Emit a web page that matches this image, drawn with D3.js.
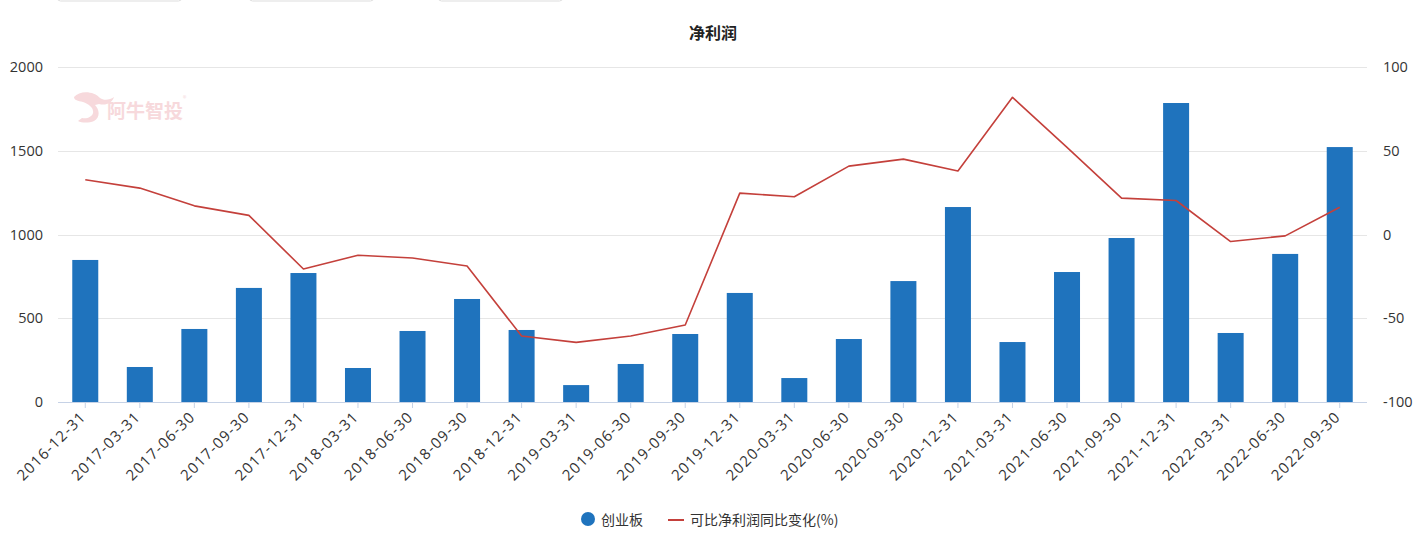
<!DOCTYPE html>
<html><head><meta charset="utf-8">
<script src="https://cdn.jsdelivr.net/npm/d3@7/dist/d3.min.js"></script>
<style>body{margin:0;background:#fff;}svg{display:block;font-family:"Noto Sans CJK SC","Open Sans",sans-serif;}</style>
</head><body><svg id="c" width="1427" height="550"></svg>
<script>
const categories = ["2016-12-31","2017-03-31","2017-06-30","2017-09-30","2017-12-31","2018-03-31","2018-06-30","2018-09-30","2018-12-31","2019-03-31","2019-06-30","2019-09-30","2019-12-31","2020-03-31","2020-06-30","2020-09-30","2020-12-31","2021-03-31","2021-06-30","2021-09-30","2021-12-31","2022-03-31","2022-06-30","2022-09-30"];
const barValues = [848,209,436,681,770,203,424,615,430,101,227,406,651,143,376,722,1164,358,776,979,1785,412,884,1522];
const lineValues = [32.7,27.7,17.1,11.4,-20.6,-12.4,-14,-18.8,-60.6,-64.4,-60.6,-54,24.7,22.5,40.8,45,37.9,81.9,52,21.7,20.3,-4.2,-0.8,16.3];
const leftTicks = [0,500,1000,1500,2000];
const rightTicks = [-100,-50,0,50,100];
const title = "净利润";
const barName = "创业板";
const lineName = "可比净利润同比变化(%)";

const svg = d3.select("#c");
const L = 58, R = 1367, T = 67, B = 402;
const x = d3.scaleBand().domain(categories).range([L, R]).paddingInner(0).paddingOuter(0);
const yL = d3.scaleLinear().domain([0, 2000]).range([B, T]);
const yR = d3.scaleLinear().domain([-100, 100]).range([B, T]);

// top boxes
[[57,181],[249,373],[438,562]].forEach(([a,b])=>{
  svg.append("rect").attr("x",a+0.5).attr("y",-20).attr("width",b-a).attr("height",21).attr("rx",3)
    .attr("fill","#fff").attr("stroke","#ddd");
});

// watermark
const wm = svg.append("g").attr("opacity",0.85);
wm.append("path").attr("d","M74,97 C80,90 94,91 100,98 C104,101 110,100 114,97 C112,103 106,106 99,104 L95,105 C100,110 100,118 94,121 C89,123 82,123 78,121 L82,118 C87,119 92,117 93,113 C94,108 89,104 83,102 C78,101 74,100 74,97 Z")
  .attr("fill","#f6d3d6");
wm.append("text").attr("x",107).attr("y",118).attr("font-size",19).attr("font-weight","bold").attr("fill","#f6d3d6").text("阿牛智投");
wm.append("text").attr("x",183).attr("y",101).attr("font-size",7).attr("fill","#f6d3d6").text("®");

// grid
svg.append("g").selectAll("line").data(leftTicks.filter(d=>d>0)).join("line")
  .attr("x1",L).attr("x2",R).attr("y1",d=>Math.round(yL(d))+0.5).attr("y2",d=>Math.round(yL(d))+0.5)
  .attr("stroke","#e6e6e6").attr("stroke-width",1);

// left axis labels
svg.append("g").selectAll("text").data(leftTicks).join("text")
  .attr("x",43).attr("y",d=>yL(d)).attr("dy","0.35em").attr("text-anchor","end")
  .attr("font-size",14.5).attr("fill","#333").attr("font-family","'Open Sans',sans-serif").text(d=>d);
// right axis labels
svg.append("g").selectAll("text").data(rightTicks).join("text")
  .attr("x",1383).attr("y",d=>yR(d)).attr("dy","0.35em").attr("text-anchor","start")
  .attr("font-size",14.5).attr("fill","#333").attr("font-family","'Open Sans',sans-serif").text(d=>d);

// bars
const bw = 26;
svg.append("g").selectAll("rect").data(categories).join("rect")
  .attr("x",(d)=>x(d)+x.bandwidth()/2-bw/2).attr("width",bw)
  .attr("y",(d,i)=>yL(barValues[i])).attr("height",(d,i)=>B-yL(barValues[i]))
  .attr("fill","#1f73bd");

// x axis
const xa = svg.append("g").attr("transform",`translate(0,${B})`)
  .call(d3.axisBottom(x).tickSize(6).tickPadding(6));
xa.select(".domain").attr("stroke","#c6d2e6").attr("d",`M${L},0.5H${R}`);
xa.selectAll(".tick line").attr("stroke","#c6d2e6").attr("y1",0);
xa.selectAll(".tick text").attr("font-size",15).attr("fill","#333")
  .attr("font-family","'Open Sans',sans-serif").attr("letter-spacing","1.2px")
  .attr("text-anchor","end").attr("y",0).attr("dy","0.35em")
  .attr("transform","translate(-2,12) rotate(-45)");

// line
const line = d3.line().x((d,i)=>x(categories[i])+x.bandwidth()/2).y(d=>yR(d));
svg.append("path").datum(lineValues).attr("d",line).attr("fill","none")
  .attr("stroke","#c4403b").attr("stroke-width",1.6).attr("stroke-linejoin","round");

// title
svg.append("text").attr("x",713).attr("y",39).attr("text-anchor","middle")
  .attr("font-size",16).attr("font-weight","bold").attr("fill","#222").text(title);

// legend
svg.append("circle").attr("cx",588).attr("cy",519).attr("r",7).attr("fill","#1f73bd");
svg.append("text").attr("x",601).attr("y",525).attr("font-size",14).attr("fill","#333").text(barName);
svg.append("line").attr("x1",668).attr("x2",684).attr("y1",520).attr("y2",520).attr("stroke","#c4403b").attr("stroke-width",2);
svg.append("text").attr("x",690).attr("y",525).attr("font-size",14).attr("fill","#333").text(lineName);
</script></body></html>
